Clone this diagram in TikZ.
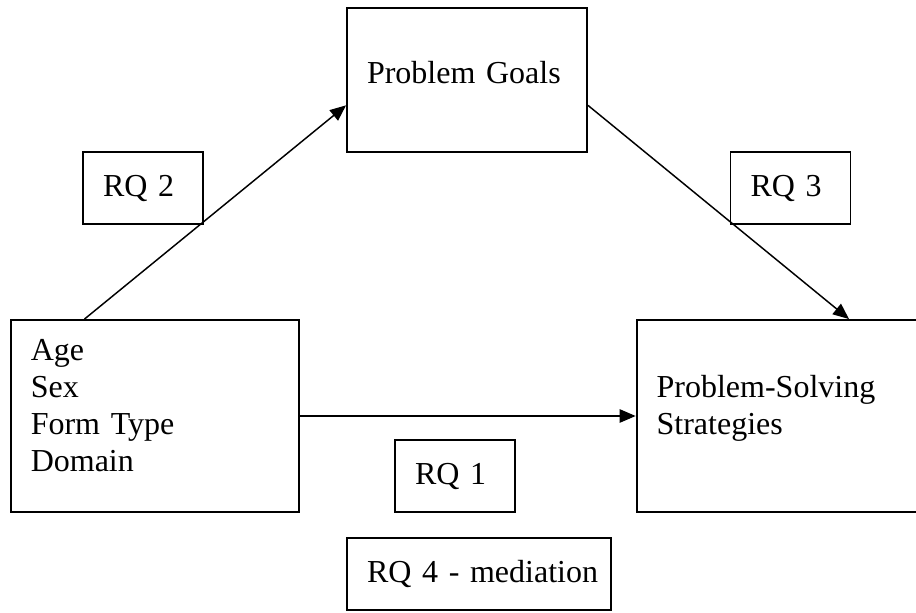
\documentclass[tikz,border=0pt]{standalone}
\usepackage{fontspec}
\setmainfont{Liberation Serif}
\usepackage{tikz}
\usetikzlibrary{arrows.meta}
\usetikzlibrary{positioning}
\newcommand{\boxfont}{\fontsize{24}{27.75}\selectfont\hyphenpenalty=10000}
\tikzstyle{bigblock} = [rectangle, draw, line width=1.4pt, inner xsep=15pt, text width=186pt, align=left, minimum height=144pt, font=\boxfont]
\tikzstyle{smallblock} = [rectangle, draw, line width=1.4pt, inner xsep=15pt, text width=60pt, align=left, minimum height=54pt, font=\boxfont]
\tikzstyle{line} = [draw, -{Triangle[length=12pt,width=10pt]}, line width=1.1pt]

\begin{document}
\begin{tikzpicture}[x=0.75pt, y=-0.75pt]
    \useasboundingbox (0,0) rectangle (916,613);

    \node [bigblock] (factors) at (154.75,416) {Age\\Sex\\Form Type\\Domain\\[-11.75pt]\mbox{}};
    \node [bigblock, text width=210pt, right=252pt of factors] (strategies) {Problem-Solving\\Strategies\\[-11.75pt]\mbox{}};
    \node [bigblock, text width=150pt, minimum height=108pt] (goals) at (467,80) {Problem Goals\\[-16.75pt]\mbox{}};

    \node [smallblock] (rq2) at (143,188) {RQ 2};
    \node [smallblock] (rq3) at (790.5,188) {RQ 3};
    \node [smallblock] (rq1) at (455,476) {RQ 1};
    \node [smallblock, text width=168pt, below=18pt of rq1, xshift=18pt] (rq4) {\mbox{RQ 4 - mediation}};

    \path [line] ([xshift=56pt]factors.north west) -- ([yshift=-19pt]goals.west);
    \path [line] ([yshift=-19pt]goals.east) -- ([xshift=160pt]strategies.north west);
    \path [line] (factors) -- (strategies);
\end{tikzpicture}
\end{document}
